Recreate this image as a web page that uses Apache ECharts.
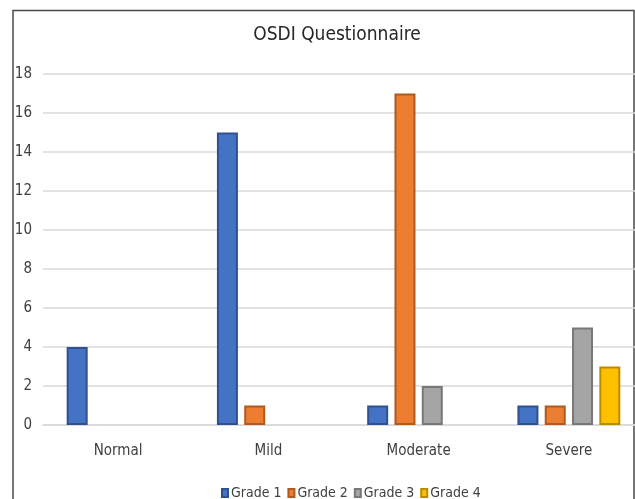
<!DOCTYPE html>
<html>
<head>
<meta charset="utf-8">
<style>
  html, body { margin: 0; padding: 0; background: #fff; }
  #chart { width: 635px; height: 499px; }
</style>
<script src="https://cdn.jsdelivr.net/npm/echarts@6/dist/echarts.min.js"></script>
</head>
<body>
<div id="chart"></div>
<script>
// OSDI severity categories and patient counts per grade
const categories = ['Normal', 'Mild', 'Moderate', 'Severe'];
const grade1 = [4, 15, 1, 1];
const grade2 = [0, 1, 17, 1];
const grade3 = [0, 0, 2, 5];
const grade4 = [0, 0, 0, 3];
const seriesNames = ['Grade 1', 'Grade 2', 'Grade 3', 'Grade 4'];
const yTicks = { min: 0, max: 18, interval: 2 };

const FONT = '"Liberation Sans Narrow", "DejaVu Sans Condensed", "Liberation Sans", sans-serif';
const fills = ['#4472C4', '#ED7D31', '#A5A5A5', '#FFC000'];
const edges = ['#2F528F', '#AE5A21', '#787878', '#BC8C00'];
const values = [grade1, grade2, grade3, grade4];

const chart = echarts.init(document.getElementById('chart'), null, { renderer: 'canvas' });

chart.setOption({
  backgroundColor: '#ffffff',
  animation: false,
  title: {
    text: 'OSDI Questionnaire',
    left: 332,
    textAlign: 'center',
    top: 21,
    textStyle: { fontFamily: FONT, fontSize: 19, fontWeight: 'normal', color: '#262626' }
  },
  legend: {
    data: seriesNames,
    top: 481,
    left: 216,
    itemWidth: 6,
    itemHeight: 8,
    itemGap: 6,
    icon: 'rect',
    textStyle: { fontFamily: FONT, fontSize: 14, color: '#404040', padding: [0, 0, 0, -2] }
  },
  // plot area continues a little past the right edge of the canvas
  grid: { left: 43, top: 74, width: 601, height: 351, containLabel: false, outerBoundsMode: 'none' },
  xAxis: {
    type: 'category',
    data: categories,
    axisLine: { lineStyle: { color: '#d9d9d9', width: 1.5 } },
    axisTick: { show: false },
    axisLabel: { fontFamily: FONT, fontSize: 15, color: '#404040', margin: 19 }
  },
  yAxis: {
    type: 'value',
    min: yTicks.min,
    max: yTicks.max,
    interval: yTicks.interval,
    axisLine: { show: false },
    axisTick: { show: false },
    splitLine: { lineStyle: { color: '#d9d9d9', width: 1.5 } },
    axisLabel: { fontFamily: FONT, fontSize: 15, color: '#404040', margin: 11 }
  },
  series: seriesNames.map((name, i) => ({
    name: name,
    type: 'bar',
    data: values[i].map(v => (v === 0 ? null : v)),
    barWidth: 21,
    barGap: '30%',
    itemStyle: { color: fills[i], borderColor: edges[i], borderWidth: 2 }
  })),
  graphic: [{
    type: 'polyline',
    silent: true,
    shape: { points: [[13, 499], [13, 10.5], [634, 10.5], [634, 499]] },
    style: { stroke: '#4a4a4a', lineWidth: 1.5, fill: null }
  }]
});
</script>
</body>
</html>
